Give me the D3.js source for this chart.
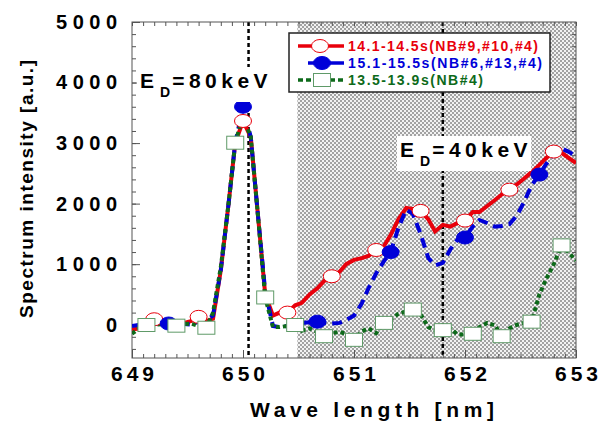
<!DOCTYPE html>
<html>
<head>
<meta charset="utf-8">
<script src="https://d3js.org/d3.v7.min.js"></script>
<style>
  body { margin: 0; background: #fff; }
  text { font-family: Arial, "Liberation Sans", sans-serif; font-weight: bold; }
</style>
</head>
<body>
<script>
// wavelength grid [nm]
var wavelength = [649.00,649.07,649.13,649.20,649.27,649.33,649.40,649.47,649.53,649.60,
  649.67,649.73,649.80,649.87,649.93,650.00,650.07,650.13,650.20,650.27,
  650.33,650.40,650.47,650.53,650.60,650.67,650.73,650.80,650.87,650.93,
  651.00,651.07,651.13,651.20,651.27,651.33,651.40,651.47,651.53,651.60,
  651.67,651.73,651.80,651.87,651.93,652.00,652.07,652.13,652.20,652.27,
  652.33,652.40,652.47,652.53,652.60,652.67,652.73,652.80,652.87,652.93,653.00];

// 14.1-14.5s (red)
var red = [-80,-60,30,90,70,40,30,30,60,130,
  60,100,900,2000,3000,3365,3100,1900,500,150,
  200,200,320,360,500,600,720,800,875,1000,
  1070,1100,1135,1234,1300,1480,1740,1930,1910,1880,
  1740,1540,1650,1620,1680,1720,1860,1860,1960,2060,
  2150,2230,2320,2410,2520,2640,2750,2860,2840,2760,2670];
var redMarks = [3,9,15,21,27,33,39,45,51,57];

// 15.1-15.5s (blue)
var blue = [-20,0,10,10,20,20,20,10,0,50,
  80,150,900,2000,3000,3600,3100,1900,550,-20,
  -40,-20,10,30,40,50,30,20,30,80,
  150,350,600,850,1050,1200,1600,1900,1830,1500,
  1100,980,1020,1250,1400,1440,1620,1730,1680,1620,
  1630,1660,1810,2020,2300,2480,2650,2820,2910,2860,2790];
var blueMarks = [5,15,25,35,45,55];

// 13.5-13.9s (green)
var green = [-150,-50,-5,0,10,0,-16,10,20,-20,
  -50,200,950,2000,3006,3450,3100,1900,450,-40,
  -40,-20,-5,-100,-60,-120,-190,-140,-120,-150,
  -250,-110,-60,-140,30,90,180,220,250,170,
  -40,-90,-90,-60,-160,-160,-150,-40,30,-10,
  -190,-60,0,30,50,500,750,1000,1310,1200,1060];
var greenMarks = [2,6,10,14,18,22,26,30,34,38,42,46,50,54,58];

var legendLabels = ["14.1-14.5s(NB#9,#10,#4)", "15.1-15.5s(NB#6,#13,#4)", "13.5-13.9s(NB#4)"];
var xTicks = [649, 650, 651, 652, 653];
var yTicks = [0, 1000, 2000, 3000, 4000, 5000];
var hatchStart = 650.49;
var markerLines = [650.05, 651.8];

var W = 609, H = 424;
var L = 132, R = 576, T = 22, B = 358;

var x = d3.scaleLinear().domain([649, 653]).range([L, R]);
var y = d3.scaleLinear().domain([-550, 5000]).range([B, T]);

var svg = d3.select("body").append("svg").attr("width", W).attr("height", H);

var defs = svg.append("defs");
var pat = defs.append("pattern").attr("id", "hatch")
  .attr("patternUnits", "userSpaceOnUse").attr("width", 4).attr("height", 4);
pat.append("rect").attr("width", 4).attr("height", 4).attr("fill", "#f2f2f2");
pat.append("rect").attr("width", 2).attr("height", 2).attr("fill", "#a2a2a2");
pat.append("rect").attr("x", 2).attr("y", 2).attr("width", 2).attr("height", 2).attr("fill", "#a2a2a2");
defs.append("clipPath").attr("id", "clip").append("rect")
  .attr("x", L).attr("y", T).attr("width", R - L).attr("height", B - T);

// shaded region
svg.append("rect")
  .attr("x", x(hatchStart)).attr("y", T)
  .attr("width", x(653) - x(hatchStart)).attr("height", B - T)
  .attr("fill", "url(#hatch)");

// dashed markers for E_D
svg.selectAll(".vline").data(markerLines).enter().append("line")
  .attr("x1", d => x(d)).attr("x2", d => x(d))
  .attr("y1", T).attr("y2", B)
  .attr("stroke", "#000").attr("stroke-width", 2.5)
  .attr("stroke-dasharray", "4,3");

// axes: ticks pointing inward
function styleAxis(g) {
  g.select(".domain").remove();
  g.selectAll(".tick line").attr("stroke", "#555");
}
var minorX = d3.range(649, 653.001, 0.1);
var minorY = d3.range(-400, 5000, 200);

svg.append("g").attr("transform", "translate(0," + B + ")")
  .call(d3.axisBottom(x).tickValues(minorX).tickSize(-4).tickFormat(""))
  .call(styleAxis);
svg.append("g").attr("transform", "translate(0," + T + ")")
  .call(d3.axisTop(x).tickValues(minorX).tickSize(-4).tickFormat(""))
  .call(styleAxis);
svg.append("g").attr("transform", "translate(" + L + ",0)")
  .call(d3.axisLeft(y).tickValues(minorY).tickSize(-4).tickFormat(""))
  .call(styleAxis);
svg.append("g").attr("transform", "translate(" + R + ",0)")
  .call(d3.axisRight(y).tickValues(minorY).tickSize(-4).tickFormat(""))
  .call(styleAxis);

var xAxis = svg.append("g").attr("transform", "translate(0," + B + ")")
  .call(d3.axisBottom(x).tickValues(xTicks).tickSize(-8).tickPadding(8).tickFormat(d3.format("d")))
  .call(styleAxis);
xAxis.selectAll("text").attr("fill", "#000").attr("font-size", 21)
  .attr("textLength", 43).attr("lengthAdjust", "spacing");

var yAxis = svg.append("g").attr("transform", "translate(" + L + ",0)")
  .call(d3.axisLeft(y).tickValues(yTicks).tickSize(-8).tickPadding(15).tickFormat(d3.format("d")))
  .call(styleAxis);
yAxis.selectAll("text").attr("fill", "#000").attr("font-size", 20)
  .attr("textLength", d => d === 0 ? 14 : 61).attr("lengthAdjust", "spacing");

svg.append("rect").attr("x", L).attr("y", T).attr("width", R - L).attr("height", B - T)
  .attr("fill", "none").attr("stroke", "#555").attr("stroke-width", 1);

// series
var series = [
  {vals: red, marks: redMarks, color: "#e8000b", dash: null, mark: "circle", mstroke: "#e8000b", mfill: "#fff"},
  {vals: blue, marks: blueMarks, color: "#0000d8", dash: "10,6", mark: "circle", mstroke: "#0000d8", mfill: "#0000d8"},
  {vals: green, marks: greenMarks, color: "#0d6a1a", dash: "4,3", mark: "square", mstroke: "#5f9a68", mfill: "#fff"}
];

var line = d3.line().x((d, i) => x(wavelength[i])).y(d => y(d));
var plot = svg.append("g").attr("clip-path", "url(#clip)");

series.forEach(function(s) {
  plot.append("path").datum(s.vals)
    .attr("d", line).attr("fill", "none")
    .attr("stroke", s.color).attr("stroke-width", 4)
    .attr("stroke-dasharray", s.dash);
});

function drawMarker(g, s, cx, cy) {
  if (s.mark === "circle") {
    g.append("ellipse").attr("cx", cx).attr("cy", cy).attr("rx", 8.5).attr("ry", 6.5)
      .attr("fill", s.mfill).attr("stroke", s.mstroke).attr("stroke-width", 1);
  } else {
    g.append("rect").attr("x", cx - 8.5).attr("y", cy - 6.5).attr("width", 17).attr("height", 13)
      .attr("fill", s.mfill).attr("stroke", s.mstroke).attr("stroke-width", 1);
  }
}

series.forEach(function(s) {
  s.marks.forEach(function(i) {
    drawMarker(svg, s, x(wavelength[i]), y(s.vals[i]));
  });
});

// legend
var lg = svg.append("g");
lg.append("rect").attr("x", 289).attr("y", 33).attr("width", 261).attr("height", 59)
  .attr("fill", "#fff").attr("stroke", "#222").attr("stroke-width", 1.5);
var rowY = [46, 63, 80];
var textW = [190, 194, 135];
series.forEach(function(s, k) {
  var yy = rowY[k];
  lg.append("line").attr("x1", k === 1 ? 308 : 298).attr("x2", 344).attr("y1", yy).attr("y2", yy)
    .attr("stroke", s.color).attr("stroke-width", 3.5).attr("stroke-dasharray", k === 2 ? "5,3" : null);
  drawMarker(lg, s, k === 0 ? 320 : 322, yy);
  lg.append("text").attr("x", 348).attr("y", yy + 5).attr("font-size", 14)
    .attr("fill", s.color).attr("textLength", textW[k]).attr("lengthAdjust", "spacing")
    .text(legendLabels[k]);
});

// E_D annotations with white boxes
function edLabel(xx, yy, value) {
  var g = svg.append("g");
  var box = g.append("rect").attr("fill", "#fff");
  var t = g.append("text").attr("x", xx).attr("y", yy).attr("font-size", 21);
  t.append("tspan").text("E");
  t.append("tspan").attr("dy", 9).attr("font-size", 14).attr("dx", 6).text("D");
  t.append("tspan").attr("dy", -9).attr("dx", 2).attr("letter-spacing", "4.5px").text("=" + value + "keV");
  var bb = t.node().getBBox();
  box.attr("x", bb.x - 3).attr("y", bb.y - 2).attr("width", bb.width + 2).attr("height", bb.height + 4);
}
edLabel(140, 88, "80");
edLabel(400, 157, "40");

// axis titles
svg.append("text").attr("x", 250).attr("y", 417).attr("font-size", 21)
  .attr("textLength", 244).attr("lengthAdjust", "spacing").text("Wave length [nm]");
svg.append("text").attr("transform", "translate(33,318) rotate(-90)").attr("font-size", 19)
  .attr("textLength", 258).attr("lengthAdjust", "spacing").text("Spectrum intensity [a.u.]");
</script>
</body>
</html>
